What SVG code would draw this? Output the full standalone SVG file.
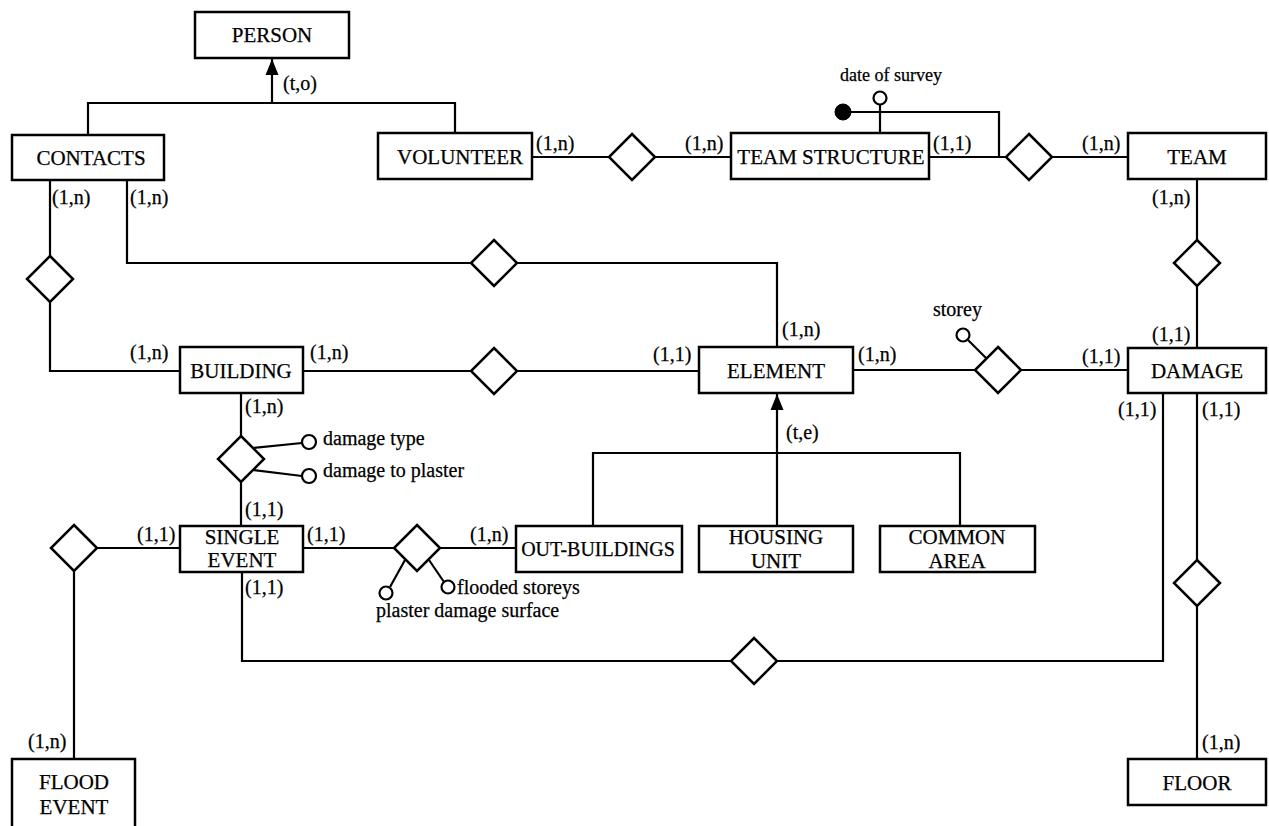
<svg xmlns="http://www.w3.org/2000/svg" width="1269" height="826" viewBox="0 0 1269 826">
<style>
  .ent { fill: #fff; stroke: #000; stroke-width: 2.5; }
  .rel { fill: #fff; stroke: #000; stroke-width: 2.5; stroke-linejoin: miter; }
  .ln { fill: none; stroke: #000; stroke-width: 2.2; }
  .att { fill: #fff; stroke: #000; stroke-width: 2.2; }
  .idf { fill: #000; stroke: #000; stroke-width: 1; }
  text { font-family: "Liberation Serif", "DejaVu Serif", "Times New Roman", serif; font-size: 20px; fill: #000; stroke: #000; stroke-width: 0.25; }
  .nm { text-anchor: middle; font-size: 21px; }
</style>
<defs>
  <marker id="arr" markerWidth="17" markerHeight="14" refX="16" refY="7" orient="auto" markerUnits="userSpaceOnUse" viewBox="0 0 17 14">
    <path d="M16,7 L0,0.5 L0,13.5 Z" fill="#000"/>
  </marker>
</defs>
<rect width="1269" height="826" fill="#fff"/>

<g id="connectors">
  <!-- PERSON generalization -->
  <polyline class="ln" points="88,135 88,103 455,103 455,133"/>
  <line class="ln" x1="272" y1="103" x2="272" y2="59" marker-end="url(#arr)"/>
  <!-- VOLUNTEER - TEAM STRUCTURE -->
  <line class="ln" x1="532" y1="157" x2="731" y2="157"/>
  <!-- TEAM STRUCTURE - TEAM -->
  <line class="ln" x1="929" y1="157" x2="1128" y2="157"/>
  <polyline class="ln" points="999,157 999,112 843,112"/>
  <!-- TEAM - DAMAGE -->
  <line class="ln" x1="1197" y1="179" x2="1197" y2="348"/>
  <!-- CONTACTS - BUILDING -->
  <polyline class="ln" points="50,180 50,371 180,371"/>
  <!-- CONTACTS - ELEMENT -->
  <polyline class="ln" points="127,180 127,263 777,263 777,347"/>
  <!-- BUILDING - ELEMENT -->
  <line class="ln" x1="303" y1="371" x2="699" y2="371"/>
  <!-- ELEMENT - DAMAGE -->
  <line class="ln" x1="853" y1="370" x2="1128" y2="370"/>
  <!-- BUILDING - SINGLE EVENT -->
  <line class="ln" x1="241" y1="393" x2="241" y2="526"/>
  <!-- FLOOD EVENT - SINGLE EVENT -->
  <polyline class="ln" points="180,548 74,548 74,759"/>
  <!-- SINGLE EVENT - OUT-BUILDINGS -->
  <line class="ln" x1="303" y1="548" x2="516" y2="548"/>
  <!-- ELEMENT generalization -->
  <polyline class="ln" points="593,526 593,453 960,453 960,526"/>
  <line class="ln" x1="777" y1="526" x2="777" y2="394" marker-end="url(#arr)"/>
  <!-- SINGLE EVENT - DAMAGE -->
  <polyline class="ln" points="242,572 242,661 1163,661 1163,393"/>
  <!-- DAMAGE - FLOOR -->
  <line class="ln" x1="1197" y1="393" x2="1197" y2="759"/>
  <!-- attribute stems -->
  <line class="ln" x1="880" y1="104" x2="880" y2="133"/>
  <line class="ln" x1="968" y1="340" x2="987" y2="359"/>
  <line class="ln" x1="253" y1="448" x2="302" y2="443"/>
  <line class="ln" x1="253" y1="470" x2="302" y2="476"/>
  <line class="ln" x1="405" y1="560" x2="390" y2="587"/>
  <line class="ln" x1="429" y1="560" x2="444" y2="582"/>
</g>

<g id="relationships">
  <polygon id="rel-vol-ts" class="rel" points="632,134 655,157 632,180 609,157"/>
  <polygon id="rel-ts-team" class="rel" points="1029,134 1052,157 1029,180 1006,157"/>
  <polygon id="rel-team-damage" class="rel" points="1197,240 1220,263 1197,286 1174,263"/>
  <polygon id="rel-contacts-building" class="rel" points="50,256 73,279 50,302 27,279"/>
  <polygon id="rel-contacts-element" class="rel" points="494,240 517,263 494,286 471,263"/>
  <polygon id="rel-building-element" class="rel" points="494,348 517,371 494,394 471,371"/>
  <polygon id="rel-element-damage" class="rel" points="998,347 1021,370 998,393 975,370"/>
  <polygon id="rel-building-single" class="rel" points="241,436 264,459 241,482 218,459"/>
  <polygon id="rel-flood-single" class="rel" points="74,525 97,548 74,571 51,548"/>
  <polygon id="rel-single-out" class="rel" points="417,525 440,548 417,571 394,548"/>
  <polygon id="rel-single-damage" class="rel" points="754,638 777,661 754,684 731,661"/>
  <polygon id="rel-damage-floor" class="rel" points="1197,560 1220,583 1197,606 1174,583"/>
</g>

<g id="attributes">
  <circle class="idf" cx="843" cy="112" r="8"/>
  <circle class="att" cx="880" cy="98" r="6.5"/>
  <text x="840" y="81" style="font-size:18px">date of survey</text>
  <circle class="att" cx="963" cy="335" r="6.5"/>
  <text x="933" y="316">storey</text>
  <circle class="att" cx="309" cy="442" r="7"/>
  <text x="323" y="445">damage type</text>
  <circle class="att" cx="309" cy="476" r="7"/>
  <text x="323" y="477">damage to plaster</text>
  <circle class="att" cx="386" cy="593" r="6.5"/>
  <text x="376" y="617">plaster damage surface</text>
  <circle class="att" cx="448" cy="587" r="6.5"/>
  <text x="457" y="594">flooded storeys</text>
</g>

<g id="person"><rect class="ent" x="195" y="12" width="154" height="46"/><text class="nm" x="272" y="42">PERSON</text></g>
<g id="contacts"><rect class="ent" x="12" y="135" width="152" height="45"/><text class="nm" x="91" y="165">CONTACTS</text></g>
<g id="volunteer"><rect class="ent" x="378" y="133" width="154" height="46"/><text class="nm" x="460" y="164">VOLUNTEER</text></g>
<g id="team-structure"><rect class="ent" x="731" y="133" width="198" height="46"/><text class="nm" x="831" y="164">TEAM STRUCTURE</text></g>
<g id="team"><rect class="ent" x="1128" y="133" width="138" height="46"/><text class="nm" x="1197" y="164">TEAM</text></g>
<g id="building"><rect class="ent" x="180" y="347" width="123" height="46"/><text class="nm" x="241" y="378">BUILDING</text></g>
<g id="element"><rect class="ent" x="699" y="347" width="154" height="46"/><text class="nm" x="776" y="378">ELEMENT</text></g>
<g id="damage"><rect class="ent" x="1128" y="348" width="138" height="45"/><text class="nm" x="1197" y="378">DAMAGE</text></g>
<g id="single-event"><rect class="ent" x="180" y="526" width="123" height="46"/><text class="nm" x="242" y="544">SINGLE</text><text class="nm" x="242" y="567">EVENT</text></g>
<g id="out-buildings"><rect class="ent" x="516" y="526" width="166" height="46"/><text class="nm" x="598" y="556" style="font-size:20px">OUT-BUILDINGS</text></g>
<g id="housing-unit"><rect class="ent" x="699" y="526" width="154" height="46"/><text class="nm" x="776" y="544">HOUSING</text><text class="nm" x="776" y="568">UNIT</text></g>
<g id="common-area"><rect class="ent" x="880" y="526" width="155" height="46"/><text class="nm" x="957" y="544">COMMON</text><text class="nm" x="957" y="568">AREA</text></g>
<g id="flood-event"><rect class="ent" x="12" y="759" width="123" height="80"/><text class="nm" x="74" y="789">FLOOD</text><text class="nm" x="74" y="814">EVENT</text></g>
<g id="floor"><rect class="ent" x="1128" y="759" width="138" height="46"/><text class="nm" x="1197" y="790">FLOOR</text></g>

<g id="labels">
  <text x="283" y="90">(t,o)</text>
  <text x="52" y="204">(1,n)</text>
  <text x="130" y="204">(1,n)</text>
  <text x="536" y="150">(1,n)</text>
  <text x="685" y="150">(1,n)</text>
  <text x="933" y="150">(1,1)</text>
  <text x="1082" y="150">(1,n)</text>
  <text x="1152" y="204">(1,n)</text>
  <text x="1152" y="341">(1,1)</text>
  <text x="1082" y="363">(1,1)</text>
  <text x="858" y="361">(1,n)</text>
  <text x="1118" y="416">(1,1)</text>
  <text x="1202" y="416">(1,1)</text>
  <text x="130" y="359">(1,n)</text>
  <text x="310" y="359">(1,n)</text>
  <text x="782" y="336">(1,n)</text>
  <text x="653" y="361">(1,1)</text>
  <text x="245" y="413">(1,n)</text>
  <text x="245" y="516">(1,1)</text>
  <text x="137" y="541">(1,1)</text>
  <text x="307" y="541">(1,1)</text>
  <text x="245" y="594">(1,1)</text>
  <text x="470" y="541">(1,n)</text>
  <text x="786" y="439">(t,e)</text>
  <text x="28" y="748">(1,n)</text>
  <text x="1202" y="749">(1,n)</text>
</g>
</svg>
